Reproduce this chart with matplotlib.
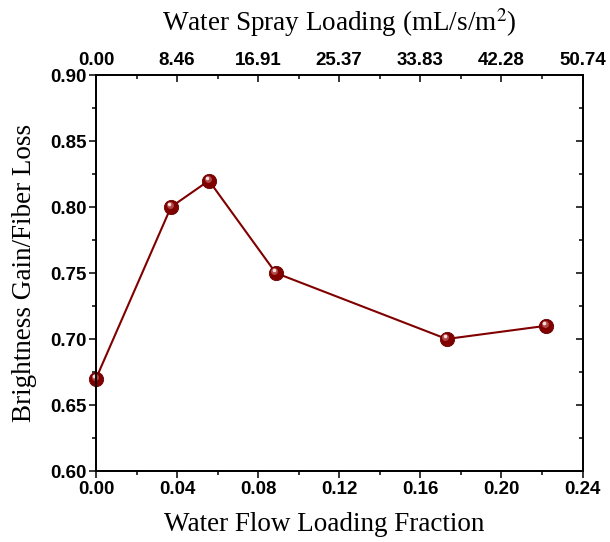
import matplotlib
matplotlib.use("Agg")
import matplotlib.pyplot as plt
import matplotlib.transforms as mtransforms
from matplotlib.ticker import MultipleLocator

plt.rcParams["mathtext.fontset"] = "stix"

flow_fraction = [0.0, 0.037, 0.0557, 0.0887, 0.173, 0.222]
ratio = [0.67, 0.80, 0.82, 0.75, 0.70, 0.71]
bottom_ticks = [0.00, 0.04, 0.08, 0.12, 0.16, 0.20, 0.24]
top_labels = ["0.00", "8.46", "16.91", "25.37", "33.83", "42.28", "50.74"]
y_ticks = [0.60, 0.65, 0.70, 0.75, 0.80, 0.85, 0.90]

tick_font = dict(family="Liberation Sans", weight="bold", size=13.5)
label_font = dict(family="Liberation Serif", size=19.5)

MAJ, MIN, W = 5.0, 2.8, 1.1

fig = plt.figure(figsize=(6.1, 5.42), dpi=100)
ax = fig.add_axes([96/610, 1-471/542, (582.5-96)/610, (471-75)/542])

color = "#800000"
ax.plot(flow_fraction, ratio, color=color, lw=1.5, zorder=3, clip_on=False)
ax.plot(flow_fraction, ratio, ls="none", marker="o", ms=10.3, mfc=color, mec="#6a0000",
        mew=0.6, zorder=4, clip_on=False)
off1 = mtransforms.offset_copy(ax.transData, fig=fig, x=-1.0, y=1.4, units="points")
ax.plot(flow_fraction, ratio, ls="none", marker="o", ms=5, mfc="#b04848", mec="none",
        zorder=5, clip_on=False, transform=off1)
off2 = mtransforms.offset_copy(ax.transData, fig=fig, x=-1.4, y=2.0, units="points")
ax.plot(flow_fraction, ratio, ls="none", marker="o", ms=2.6, mfc="#f6e0e0", mec="none",
        zorder=6, clip_on=False, transform=off2)

ax.set_xlim(0, 0.24)
ax.set_ylim(0.60, 0.90)
ax.set_xticks(bottom_ticks)
ax.set_xticklabels([f"{t:.2f}" for t in bottom_ticks], fontdict=tick_font)
ax.xaxis.set_minor_locator(MultipleLocator(0.02))
ax.set_yticks(y_ticks)
ax.set_yticklabels([f"{t:.2f}" for t in y_ticks], fontdict=tick_font)
ax.yaxis.set_minor_locator(MultipleLocator(0.025))
ax.set_xlim(0, 0.24)
ax.set_ylim(0.60, 0.90)

ax.tick_params(which="major", direction="out", length=MAJ, width=W, pad=2, colors="black")
ax.tick_params(which="minor", direction="out", length=MIN, width=W)
for s in ax.spines.values():
    s.set_linewidth(W)

ax.set_xlabel("Water Flow Loading Fraction", fontdict=label_font, labelpad=10)
ax.xaxis.label.set_x(0.47)
ax.set_ylabel("Brightness Gain/Fiber Loss", fontdict=label_font, labelpad=9)

axr = ax.twinx()
axr.set_ylim(0.60, 0.90)
axr.set_yticks(y_ticks)
axr.yaxis.set_minor_locator(MultipleLocator(0.025))
axr.tick_params(axis="y", which="major", direction="in", length=MAJ, width=W, labelright=False)
axr.tick_params(axis="y", which="minor", direction="in", length=MIN, width=W)

axt = ax.twiny()
axt.set_xlim(0, 0.24)
axt.set_xticks(bottom_ticks)
axt.set_xticklabels(top_labels, fontdict=tick_font)
axt.xaxis.set_minor_locator(MultipleLocator(0.02))
axt.tick_params(axis="x", which="major", direction="in", length=MAJ, width=W, pad=4)
axt.tick_params(axis="x", which="minor", direction="in", length=MIN, width=W)
axt.set_xlabel("Water Spray Loading (mL/s/m$^2$)", fontdict=label_font, labelpad=15.5)
for a in (axr, axt):
    for s in a.spines.values():
        s.set_linewidth(W)

fig.savefig("out.png", dpi=100)
